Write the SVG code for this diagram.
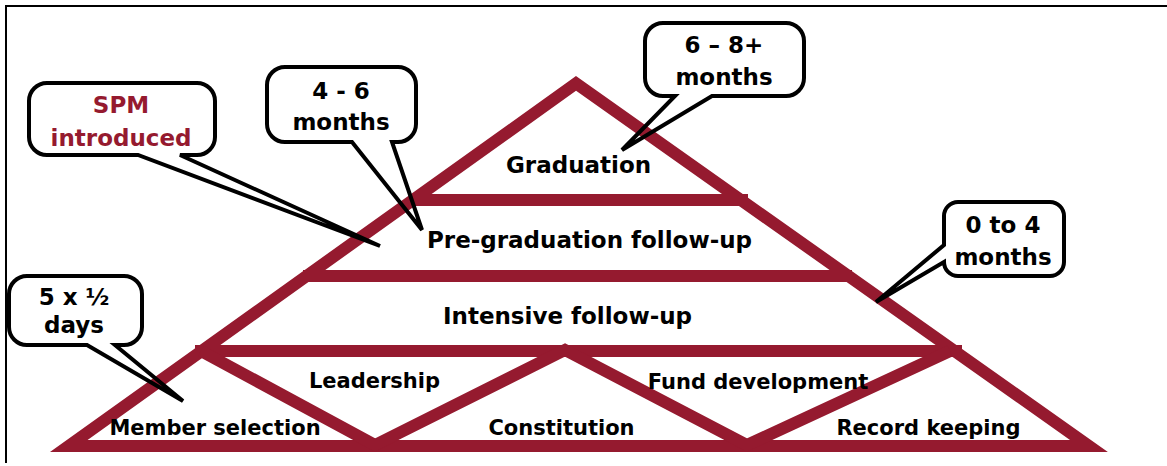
<svg xmlns="http://www.w3.org/2000/svg" width="1167" height="466" viewBox="0 0 1167 466">
  <style>
    .frame { stroke: #000; stroke-width: 2; fill: none; }
    .tier { stroke: #951A2F; stroke-width: 12; fill: none; stroke-linejoin: miter; stroke-miterlimit: 10; }
    .label { font-family: "DejaVu Sans", Verdana, sans-serif; font-weight: bold; fill: #000; text-anchor: middle; }
    .big { font-size: 23px; }
    .small { font-size: 21px; }
    .bubble-fill { fill: #fff; stroke: none; }
    .bubble { fill: none; stroke: #000; stroke-width: 4; stroke-linejoin: miter; }
    .note { font-family: "DejaVu Sans", Verdana, sans-serif; font-weight: bold; font-size: 23px; fill: #000; text-anchor: middle; }
    .accent { fill: #951A2F; }
  </style>
  <rect width="1167" height="466" fill="#fff"/>

  <!-- page frame: top and left rules only -->
  <line class="frame" x1="5" y1="6" x2="1167" y2="6"/>
  <line class="frame" x1="6" y1="5" x2="6" y2="463"/>

  <!-- pyramid outline, tier bars and lower zigzag -->
  <g id="pyramid">
    <polygon class="tier" points="576,83.4 68.7,446 1089,446"/>
    <line class="tier" x1="409" y1="200" x2="748" y2="200"/>
    <line class="tier" x1="303" y1="276" x2="852" y2="276"/>
    <line class="tier" x1="195" y1="351" x2="962" y2="351"/>
    <polyline class="tier" points="201,351 375,445 565,350 747,445 950,351"/>
  </g>

  <!-- tier labels -->
  <g id="graduation"><text class="label big" x="578.5" y="173">Graduation</text></g>
  <g id="pre-graduation"><text class="label big" x="589.5" y="248">Pre-graduation follow-up</text></g>
  <g id="intensive"><text class="label big" x="567.5" y="324">Intensive follow-up</text></g>
  <g id="leadership"><text class="label small" x="374.5" y="388">Leadership</text></g>
  <g id="fund-development"><text class="label small" x="758" y="389">Fund development</text></g>
  <g id="member-selection"><text class="label small" x="215" y="435">Member selection</text></g>
  <g id="constitution"><text class="label small" x="561.5" y="435">Constitution</text></g>
  <g id="record-keeping"><text class="label small" x="928.5" y="435">Record keeping</text></g>

  <!-- callouts with pointer tails -->
  <g id="connectors">
    <g id="callout-spm">
      <rect class="bubble-fill" x="29" y="83" width="186" height="72" rx="18"/>
      <path class="bubble" d="M47,83 H197 A18,18 0 0 1 215,101 V137 A18,18 0 0 1 197,155 H180 L380,246 L138,155 H47 A18,18 0 0 1 29,137 V101 A18,18 0 0 1 47,83 Z"/>
      <text class="note accent" x="121" y="113">SPM</text>
      <text class="note accent" x="121" y="146">introduced</text>
    </g>
    <g id="callout-4-6">
      <rect class="bubble-fill" x="267" y="67" width="149" height="75" rx="18"/>
      <path class="bubble" d="M285,67 H398 A18,18 0 0 1 416,85 V124 A18,18 0 0 1 398,142 H392 L422,230 L352,142 H285 A18,18 0 0 1 267,124 V85 A18,18 0 0 1 285,67 Z"/>
      <text class="note" x="341" y="99">4 - 6</text>
      <text class="note" x="341" y="130">months</text>
    </g>
    <g id="callout-6-8">
      <rect class="bubble-fill" x="645" y="23" width="159" height="73" rx="18"/>
      <path class="bubble" d="M663,23 H786 A18,18 0 0 1 804,41 V78 A18,18 0 0 1 786,96 H712 L622,150 L675,96 H663 A18,18 0 0 1 645,78 V41 A18,18 0 0 1 663,23 Z"/>
      <text class="note" x="724" y="53">6 – 8+</text>
      <text class="note" x="724" y="85">months</text>
    </g>
    <g id="callout-0-4">
      <rect class="bubble-fill" x="944" y="202" width="120" height="74" rx="14"/>
      <path class="bubble" d="M958,202 H1050 A14,14 0 0 1 1064,216 V262 A14,14 0 0 1 1050,276 H958 A14,14 0 0 1 944,262 L876,302 L944,245 V216 A14,14 0 0 1 958,202 Z"/>
      <text class="note" x="1003" y="233">0 to 4</text>
      <text class="note" x="1003" y="265">months</text>
    </g>
    <g id="callout-5-half">
      <rect class="bubble-fill" x="9" y="276" width="133" height="69" rx="18"/>
      <path class="bubble" d="M27,276 H124 A18,18 0 0 1 142,294 V327 A18,18 0 0 1 124,345 H115 L183,401 L87,345 H27 A18,18 0 0 1 9,327 V294 A18,18 0 0 1 27,276 Z"/>
      <text class="note" x="74" y="305">5 x ½</text>
      <text class="note" x="74" y="333">days</text>
    </g>
  </g>
</svg>
